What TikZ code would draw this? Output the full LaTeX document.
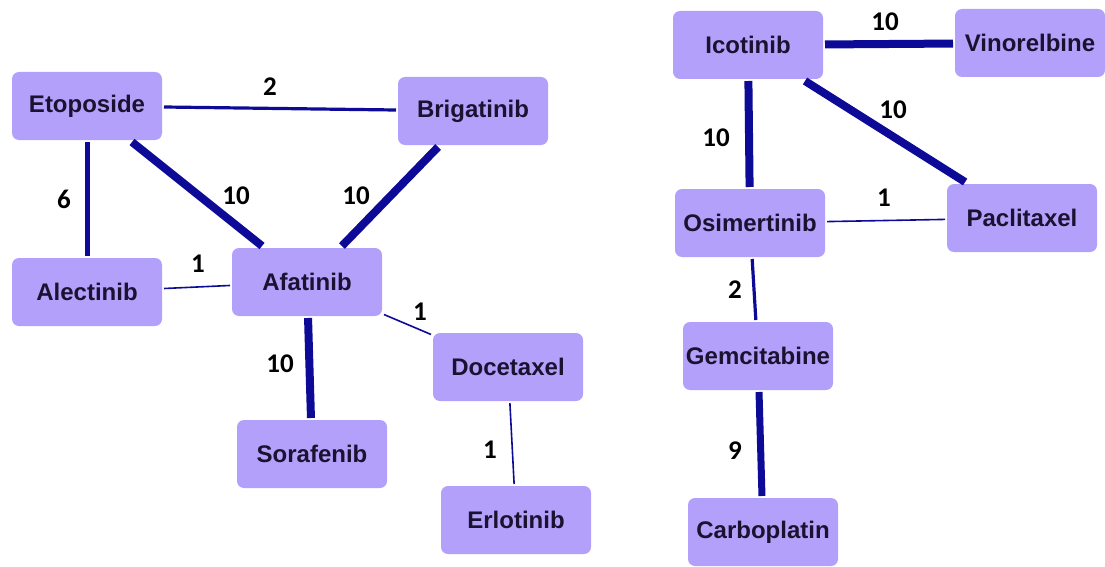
\documentclass[tikz,border=0pt]{standalone}
\usepackage{fontspec}
\setmainfont{Liberation Sans}
\newfontfamily\numfont{Carlito}
\definecolor{boxfill}{RGB}{178,160,250}
\definecolor{edgecol}{RGB}{12,10,150}
\definecolor{txtcol}{RGB}{26,18,48}
\tikzset{
  drug/.style={rectangle, rounded corners=7pt, fill=boxfill, draw=none,
    minimum width=150pt, minimum height=68pt, inner sep=0pt, outer sep=2pt,
    text=txtcol, font=\fontsize{24}{27}\selectfont\bfseries},
  wt/.style={text=black, font=\numfont\fontsize{27}{30}\selectfont\bfseries, inner sep=0pt},
  link/.style={draw=edgecol},
  w1/.style={link, line width=1.6pt},
  w2/.style={link, line width=3.2pt},
  w6/.style={link, line width=5pt},
  w9/.style={link, line width=7pt},
  w10/.style={link, line width=8pt},
}
\begin{document}
\begin{tikzpicture}[x=1pt,y=-1pt]
\useasboundingbox (0,0) rectangle (1105,567);

% left component
\node[drug] (eto) at (87,106) {Etoposide};
\node[drug] (bri) at (473,111) {Brigatinib};
\node[drug] (ale) at (87,292) {Alectinib};
\node[drug] (afa) at (307,282) {Afatinib};
\node[drug] (doc) at (508,367) {Docetaxel};
\node[drug] (sor) at (312,454) {Sorafenib};
\node[drug] (erl) at (516,520) {Erlotinib};

% right component
\node[drug] (ico) at (748,45) {Icotinib};
\node[drug] (vin) at (1030,43) {Vinorelbine};
\node[drug] (osi) at (750,223) {Osimertinib};
\node[drug] (pac) at (1022,218) {Paclitaxel};
\node[drug] (gem) at (758,356) {Gemcitabine};
\node[drug] (car) at (763,532) {Carboplatin};

% weighted links
\draw[w2]  (eto) -- (bri);
\draw[w6]  (eto) -- (ale);
\draw[w10] (eto) -- (afa);
\draw[w10] (bri) -- (afa);
\draw[w1]  (ale) -- (afa);
\draw[w10] (afa) -- (sor);
\draw[w1]  (afa) -- (doc);
\draw[w1]  (doc) -- (erl);

\draw[w10] (ico) -- (vin);
\draw[w10] (ico) -- (osi);
\draw[w10] (ico) -- (pac);
\draw[w1]  (osi) -- (pac);
\draw[w2]  (osi) -- (gem);
\draw[w9]  (gem) -- (car);

% link weights
\node[wt] (l1)  at (270,87)  {2};
\node[wt] (l2)  at (64,199)  {6};
\node[wt] (l3)  at (236,196) {10};
\node[wt] (l4)  at (356,196) {10};
\node[wt] (l5)  at (198,264) {1};
\node[wt] (l6)  at (280,364) {10};
\node[wt] (l7)  at (420,312) {1};
\node[wt] (l8)  at (490,450) {1};
\node[wt] (l9)  at (885,22)  {10};
\node[wt] (l10) at (716,138) {10};
\node[wt] (l11) at (893,110) {10};
\node[wt] (l12) at (884,198) {1};
\node[wt] (l13) at (735,290) {2};
\node[wt] (l14) at (735,451) {9};
\end{tikzpicture}
\end{document}
